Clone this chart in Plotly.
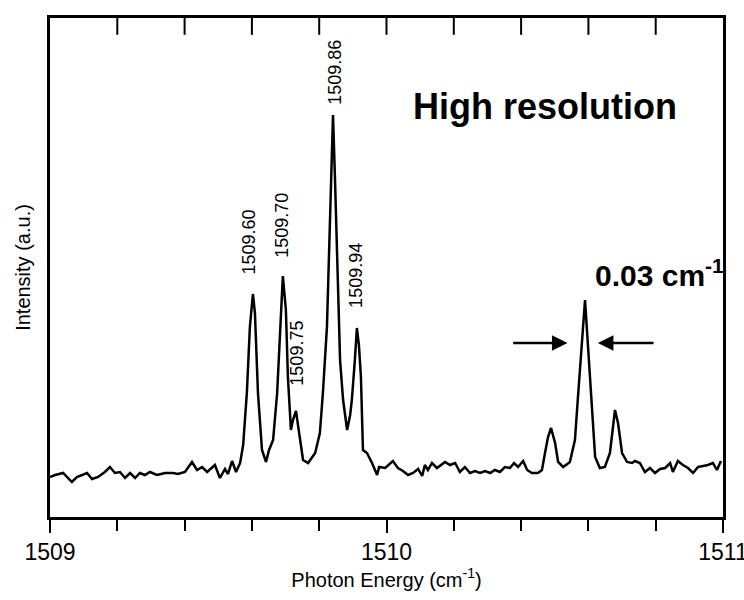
import plotly.graph_objects as go

# ---- data ----
energy = [
    1509.000, 1509.015, 1509.039, 1509.065, 1509.080, 1509.095, 1509.110, 1509.125, 1509.143, 1509.163,
    1509.178, 1509.193, 1509.208, 1509.223, 1509.238, 1509.253, 1509.267, 1509.282, 1509.297, 1509.318,
    1509.342, 1509.366, 1509.380, 1509.401, 1509.422, 1509.437, 1509.452, 1509.467, 1509.490, 1509.505,
    1509.520, 1509.529, 1509.541, 1509.553, 1509.565, 1509.574, 1509.585, 1509.594, 1509.603, 1509.609,
    1509.618, 1509.630, 1509.642, 1509.651, 1509.663, 1509.675, 1509.684, 1509.692, 1509.701, 1509.707,
    1509.716, 1509.722, 1509.731, 1509.740, 1509.752, 1509.767, 1509.788, 1509.802, 1509.811, 1509.823,
    1509.829, 1509.835, 1509.841, 1509.847, 1509.853, 1509.862, 1509.871, 1509.883, 1509.892, 1509.897,
    1509.906, 1509.912, 1509.918, 1509.924, 1509.930, 1509.942, 1509.957, 1509.972, 1509.978, 1509.996,
    1510.019, 1510.034, 1510.049, 1510.064, 1510.079, 1510.094, 1510.106, 1510.114, 1510.123, 1510.135,
    1510.150, 1510.174, 1510.189, 1510.204, 1510.218, 1510.233, 1510.248, 1510.263, 1510.278, 1510.293,
    1510.308, 1510.322, 1510.337, 1510.352, 1510.367, 1510.379, 1510.391, 1510.406, 1510.418, 1510.432,
    1510.450, 1510.462, 1510.471, 1510.480, 1510.489, 1510.501, 1510.510, 1510.525, 1510.545, 1510.560,
    1510.569, 1510.581, 1510.590, 1510.599, 1510.611, 1510.620, 1510.634, 1510.649, 1510.664, 1510.673,
    1510.679, 1510.688, 1510.700, 1510.715, 1510.730, 1510.738, 1510.753, 1510.768, 1510.783, 1510.798,
    1510.813, 1510.828, 1510.843, 1510.851, 1510.866, 1510.881, 1510.896, 1510.911, 1510.926, 1510.941,
    1510.955, 1510.970, 1510.982, 1510.994,
]
intensity = [
    40, 42, 44, 35, 40, 42, 44, 38, 40, 45,
    50, 44, 45, 39, 44, 39, 44, 42, 45, 42,
    44, 44, 43, 45, 55, 47, 50, 45, 52, 39,
    48, 43, 56, 45, 54, 72, 124, 190, 223, 204,
    124, 67, 55, 67, 77, 124, 190, 241, 207, 140,
    87, 97, 106, 84, 57, 54, 64, 84, 124, 190,
    257, 317, 402, 337, 257, 157, 117, 87, 102, 117,
    157, 189, 172, 140, 67, 64, 54, 42, 50, 49,
    56, 49, 46, 42, 44, 48, 41, 52, 47, 54,
    49, 55, 52, 54, 45, 50, 44, 46, 44, 46,
    44, 47, 45, 50, 49, 54, 50, 56, 47, 44,
    44, 47, 64, 80, 89, 74, 55, 50, 55, 77,
    120, 177, 217, 170, 104, 60, 49, 50, 64, 90,
    107, 94, 64, 55, 54, 56, 54, 45, 49, 44,
    48, 49, 54, 45, 56, 52, 49, 44, 50, 51,
    52, 54, 47, 56,
]

major_ticks = [1509, 1510, 1511]
major_tick_labels = ["1509", "1510", "1511"]
top_ticks = [1509.2, 1509.4, 1509.6, 1509.8, 1510.0, 1510.2, 1510.4, 1510.6, 1510.8]

peak_labels = ["1509.60", "1509.70", "1509.75", "1509.86", "1509.94"]
peak_label_x = [1509.590, 1509.689, 1509.733, 1509.846, 1509.909]
peak_label_y = [275, 292, 164, 445, 242]

fwhm_peak = 1510.590
fwhm_text = "0.03 cm<sup>-1</sup>"
title_text = "High resolution"

y_range = [0, 499]
FONT = "Liberation Sans, Arial, Helvetica, sans-serif"

fig = go.Figure()
fig.add_trace(go.Scatter(x=energy, y=intensity, mode="lines",
                         line=dict(color="black", width=2.5),
                         showlegend=False, hoverinfo="skip"))
# inward tick marks on the top frame edge (lower half of a vertical line marker, clipped to the plot)
fig.add_trace(go.Scatter(x=top_ticks, y=[y_range[1]] * len(top_ticks), mode="markers",
                         marker=dict(symbol="line-ns", size=24, color="black",
                                     line=dict(color="black", width=2)),
                         cliponaxis=True, showlegend=False, hoverinfo="skip"))

annotations = []
for lab, lx, ly in zip(peak_labels, peak_label_x, peak_label_y):
    annotations.append(dict(x=lx, y=ly, xref="x", yref="y", text=lab, showarrow=False,
                            textangle=-90, xanchor="center", yanchor="middle",
                            font=dict(family=FONT, size=18, color="black")))

annotations.append(dict(x=1510.471, y=411, xref="x", yref="y", text="<b>" + title_text + "</b>",
                        showarrow=False, xanchor="center", yanchor="middle",
                        font=dict(family=FONT, size=36, color="black")))
annotations.append(dict(x=1510.810, y=244, xref="x", yref="y", text="<b>" + fwhm_text + "</b>",
                        showarrow=False, xanchor="center", yanchor="middle",
                        font=dict(family=FONT, size=30, color="black")))
# FWHM arrows
annotations.append(dict(x=fwhm_peak - 0.052, y=174, ax=fwhm_peak - 0.218, ay=174,
                        xref="x", yref="y", axref="x", ayref="y", text="", showarrow=True,
                        arrowhead=2, arrowsize=1.2, arrowwidth=2.6, arrowcolor="black"))
annotations.append(dict(x=fwhm_peak + 0.038, y=174, ax=fwhm_peak + 0.208, ay=174,
                        xref="x", yref="y", axref="x", ayref="y", text="", showarrow=True,
                        arrowhead=2, arrowsize=1.2, arrowwidth=2.6, arrowcolor="black"))

fig.update_layout(
    width=744, height=600,
    margin=dict(l=50, r=21, t=18, b=83, autoexpand=False),
    paper_bgcolor="white", plot_bgcolor="white",
    font=dict(family=FONT, color="black"),
    xaxis=dict(range=[1509, 1511], tickvals=major_ticks, ticktext=major_tick_labels,
               ticks="outside", ticklen=13, tickwidth=2, tickcolor="black",
               ticklabeloverflow="allow", automargin=False,
               minor=dict(dtick=0.2, tick0=1509, ticks="outside", ticklen=11,
                          tickwidth=2, tickcolor="black", showgrid=False),
               showline=True, linewidth=2.5, linecolor="black", mirror=True,
               showgrid=False, zeroline=False,
               tickfont=dict(family=FONT, size=23),
               title=dict(text="Photon Energy (cm<sup>-1</sup>)", standoff=4,
                          font=dict(family=FONT, size=20))),
    yaxis=dict(range=y_range, showline=True, linewidth=2.5, linecolor="black",
               mirror=True, ticks="", showticklabels=False, showgrid=False, zeroline=False,
               automargin=False,
               title=dict(text="Intensity (a.u.)", standoff=12,
                          font=dict(family=FONT, size=20))),
    annotations=annotations,
)

fig.write_html("out.html", config={"displayModeBar": False},
               post_script="document.body.style.margin='0';")
